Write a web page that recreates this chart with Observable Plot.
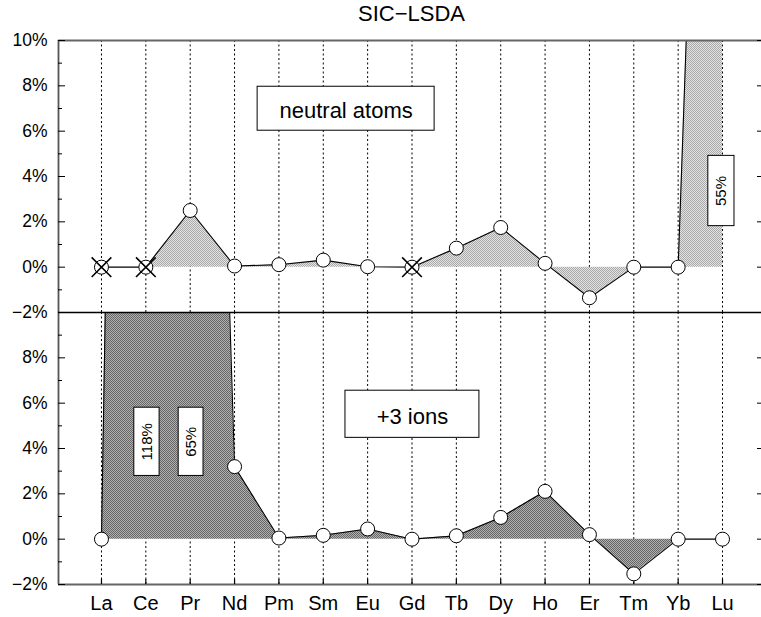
<!DOCTYPE html>
<html>
<head>
<meta charset="utf-8">
<script src="https://cdn.jsdelivr.net/npm/d3@7"></script>
<script src="https://cdn.jsdelivr.net/npm/@observablehq/plot@0.6"></script>
<style>
  body { margin: 0; background: #fff; font-family: "Liberation Sans", Arial, sans-serif; }
  #wrap { position: relative; width: 761px; height: 617px; }
  #title { position: absolute; left: 60px; width: 703px; top: 3px; text-align: center;
           font-size: 22px; line-height: 22px; color: #000; }
</style>
</head>
<body>
<div id="wrap"><div id="title">SIC−LSDA</div></div>
<script>
// ---------------- data ----------------
const elements = ["La","Ce","Pr","Nd","Pm","Sm","Eu","Gd","Tb","Dy","Ho","Er","Tm","Yb","Lu"];
const panels = ["neutral atoms", "+3 ions"];
// SIC−LSDA error (%) for neutral atoms
const neutralAtoms = [0, 0, 2.5, 0.05, 0.11, 0.31, 0.02, 0, 0.84, 1.75, 0.17, -1.35, 0, 0, 55];
const neutralMarkers = ["x","x","o","o","o","o","o","x","o","o","o","o","o","o","o"];
// SIC−LSDA error (%) for +3 ions
const ions3 = [0, 118, 65, 3.2, 0.05, 0.17, 0.45, 0, 0.15, 0.96, 2.11, 0.2, -1.53, 0, 0];
const ionMarkers = ["o","o","o","o","o","o","o","o","o","o","o","o","o","o","o"];
// axis ticks
const yTicksTop = [-2, 0, 2, 4, 6, 8, 10];
const yTicksBottom = [-2, 0, 2, 4, 6, 8];
const yMinorTicks = [-1, 1, 3, 5, 7, 9];
const xDomain = [-0.969, 14.879];
const yDomain = [-2, 10];
// annotation boxes (data coordinates)
const legendBoxes = [
  {panel: "neutral atoms", text: "neutral atoms", x1: 3.52, x2: 7.51, y1: 6.02, y2: 7.96},
  {panel: "+3 ions", text: "+3 ions", x1: 5.5, x2: 8.52, y1: 4.47, y2: 6.55}
];
const valueBoxes = [
  {panel: "+3 ions", text: "118%", x1: 0.74, x2: 1.31, y1: 2.79, y2: 5.8},
  {panel: "+3 ions", text: "65%", x1: 1.74, x2: 2.3, y1: 2.79, y2: 5.8},
  {panel: "neutral atoms", text: "55%", x1: 13.68, x2: 14.27, y1: 1.81, y2: 4.91}
];

// ---------------- derived tables ----------------
const topRows = elements.map((name, i) => ({panel: panels[0], i, name, v: neutralAtoms[i], m: neutralMarkers[i]}));
const botRows = elements.map((name, i) => ({panel: panels[1], i, name, v: ions3[i], m: ionMarkers[i]}));
const allRows = topRows.concat(botRows);
const majorRows = yTicksTop.map(v => ({panel: panels[0], v})).concat(yTicksBottom.map(v => ({panel: panels[1], v})));
const minorRows = yMinorTicks.map(v => ({panel: panels[0], v})).concat(yMinorTicks.map(v => ({panel: panels[1], v})));
const borderRows = [
  {panel: panels[0], v: 10, c: "#666", w: 1.8},
  {panel: panels[0], v: -2, c: "#000", w: 1.4},
  {panel: panels[1], v: -2, c: "#666", w: 1.8}
];
const fmt = v => (v < 0 ? "\u2212" + Math.abs(v) : String(v)) + "%";
const mid = (a, b) => (a + b) / 2;

const W = 761 - 58;            // frame width
const FH = (617 - 40 - 33) / 2; // facet height

const chart = Plot.plot({
  width: 761,
  height: 617,
  marginTop: 40,
  marginBottom: 33,
  marginLeft: 58,
  marginRight: 0,
  x: {domain: xDomain, axis: null},
  y: {domain: yDomain, axis: null},
  fy: {domain: panels, padding: 0, axis: null},
  style: {fontFamily: "'Liberation Sans', Arial, sans-serif", fontSize: "17.5px", color: "#000", background: "#fff"},
  marks: [
    // vertical dotted grid
    Plot.ruleX(elements.map((d, i) => i), {stroke: "#000", strokeWidth: 1, strokeDasharray: "2,2.5"}),
    // filled areas
    Plot.areaY(topRows, {x: "i", y: "v", fy: "panel", fill: "url(#patTop)", clip: true}),
    Plot.areaY(botRows, {x: "i", y: "v", fy: "panel", fill: "url(#patBot)", clip: true}),
    // lines
    Plot.line(topRows, {x: "i", y: "v", fy: "panel", stroke: "#000", strokeWidth: 1.1, clip: true}),
    Plot.line(botRows, {x: "i", y: "v", fy: "panel", stroke: "#000", strokeWidth: 1.1, clip: true}),
    // frame
    Plot.ruleX([xDomain[0]], {stroke: "#555", strokeWidth: 1.8}),
    Plot.ruleY(borderRows, {y: "v", fy: "panel", stroke: "c", strokeWidth: "w"}),
    // y ticks (inward)
    Plot.ruleY(majorRows, {y: "v", fy: "panel", stroke: "#000", strokeWidth: 1, insetRight: W - 7}),
    Plot.ruleY(minorRows, {y: "v", fy: "panel", stroke: "#000", strokeWidth: 1, insetRight: W - 4}),
    Plot.ruleY(majorRows, {y: "v", fy: "panel", stroke: "#000", strokeWidth: 1, insetLeft: W - 4}),
    // x ticks at bottom
    Plot.ruleX(botRows, {x: "i", fy: "panel", stroke: "#000", strokeWidth: 1.2, insetTop: FH - 5}),
    // y tick labels
    Plot.text(majorRows, {y: "v", fy: "panel", text: d => fmt(d.v), frameAnchor: "left", textAnchor: "end", dx: -11, fontSize: 17.5}),
    // x tick labels
    Plot.text(botRows, {x: "i", fy: "panel", text: "name", frameAnchor: "bottom", lineAnchor: "top", dy: 11, fontSize: 20}),
    // markers
    Plot.dot(allRows, {x: "i", y: "v", fy: "panel", r: 7, fill: "#fff", stroke: "#000", strokeWidth: 1, clip: true}),
    Plot.dot(allRows.filter(d => d.m === "x"), {x: "i", y: "v", fy: "panel", symbol: "times", r: 9, stroke: "#000", strokeWidth: 1.6, clip: true}),
    // annotation boxes
    Plot.rect(legendBoxes.concat(valueBoxes), {x1: "x1", x2: "x2", y1: "y1", y2: "y2", fy: "panel", fill: "#fff", stroke: "#000", strokeWidth: 1}),
    Plot.text(legendBoxes, {x: d => mid(d.x1, d.x2), y: d => mid(d.y1, d.y2), fy: "panel", text: "text", fontSize: 22, dy: 2.5}),
    Plot.text(valueBoxes, {x: d => mid(d.x1, d.x2), y: d => mid(d.y1, d.y2), fy: "panel", text: "text", fontSize: 15, rotate: -90})
  ]
});

const svg = chart.tagName.toLowerCase() === "svg" ? chart : chart.querySelector("svg");
const defs = d3.select(svg).insert("defs", ":first-child");
function addPattern(id, dark, light) {
  const p = defs.append("pattern").attr("id", id).attr("width", 2).attr("height", 2).attr("patternUnits", "userSpaceOnUse");
  p.append("rect").attr("width", 2).attr("height", 2).attr("fill", light);
  p.append("rect").attr("width", 1).attr("height", 1).attr("fill", dark);
  p.append("rect").attr("x", 1).attr("y", 1).attr("width", 1).attr("height", 1).attr("fill", dark);
}
addPattern("patTop", "#a8a8a8", "#e4e4e4");
addPattern("patBot", "#666666", "#b0b0b0");

document.getElementById("wrap").appendChild(chart);
</script>
</body>
</html>
